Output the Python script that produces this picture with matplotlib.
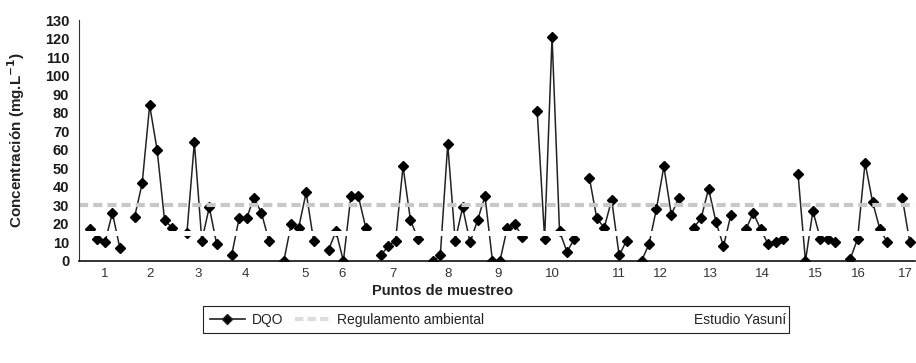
import numpy as np
import matplotlib
matplotlib.use("Agg")
import matplotlib.pyplot as plt
from matplotlib.lines import Line2D
from matplotlib.patches import Rectangle

plt.rcParams['font.family'] = ['Liberation Sans', 'DejaVu Sans']

# DQO values per sampling slot (None = gap between sampling points)
dqo = [17, 12, 10, 26, 7, None,
       24, 42, 84, 60, 22, 18, None,
       15, 64, 11, 29, 9, None,
       3, 23, 23, 34, 26, 11, None,
       0, 20, 18, 37, 11, None,
       6, 16, 0, 35, 35, 18, None,
       3, 8, 11, 51, 22, 12, None,
       0, 3, 63, 11, 29, 10,
       22, 35, 0, 0, 18, 20, 13, None,
       81, 12, 121, 16, 5, 12, None,
       45, 23, 18, 33, 3, 11, None,
       0, 9, 28, 51, 25, 34, None,
       18, 23, 39, 21, 8, 25, None,
       17, 26, 17, 9, 10, 12, None,
       47, 0, 27, 12, 12, 10, None,
       1, 12, 53, 32, 17, 10, None,
       34, 10]

regulamento = 30      # Regulamento ambiental
estudio_yasuni = 15   # Estudio Yasuní

puntos = [str(i) for i in range(1, 18)]
puntos_pos = [2.0, 8.1, 14.5, 20.9, 28.9, 33.8, 40.7, 48.0, 54.8, 62.1,
              71.0, 76.5, 83.2, 90.2, 97.3, 103.1, 109.4]

y_ticks = list(range(0, 131, 10))

fig = plt.figure(figsize=(9.16, 3.63), dpi=100)
W, H = 916, 363
ax = fig.add_axes([79 / W, 1 - 261 / H, (915 - 79) / W, (261 - 20) / H])

vals = np.array([np.nan if v is None else v for v in dqo], dtype=float)
x = np.arange(len(vals))

ax.plot(x, vals, color='#222222', lw=1.1, marker='D', ms=5.2,
        mfc='black', mec='black', zorder=3)
ax.axhline(regulamento, color='#c8c8c8', lw=3.0, dashes=(2.2, 1.2), zorder=4)
ax.axhline(estudio_yasuni, color='white', lw=3.6, zorder=5)

ax.set_xlim(-1.48, 110.7)
ax.set_ylim(0, 130)
ax.set_yticks(y_ticks)
ax.set_yticklabels([str(t) for t in y_ticks], fontsize=10.5, fontweight='bold',
                   color='#1a1a1a')
ax.set_xticks(puntos_pos)
ax.set_xticklabels(puntos, fontsize=9.5, color='#333333')
ax.tick_params(axis='both', length=0)
ax.tick_params(axis='y', pad=7)
ax.tick_params(axis='x', pad=5)

for s in ['top', 'right']:
    ax.spines[s].set_visible(False)
ax.spines['left'].set_color('#333333')
ax.spines['left'].set_linewidth(0.8)
ax.spines['left'].set_zorder(7)
ax.spines['bottom'].set_color('#111111')
ax.spines['bottom'].set_linewidth(1.2)
ax.spines['bottom'].set_zorder(7)

ax.set_ylabel('Concentración (mg.L$^{\\mathbf{-1}}$)', fontsize=11,
              fontweight='bold', color='#222222')
ax.yaxis.set_label_coords((27 - 79) / 836, 0.5)
ax.set_xlabel('Puntos de muestreo', fontsize=10.5, fontweight='bold',
              color='#222222')
ax.xaxis.set_label_coords((443 - 79) / 836, (261 - 284) / 241)

# legend
ly = 1 - 320 / H
h1 = Line2D([], [], color='#222222', lw=1.2, marker='D', ms=5, mfc='black')
h2 = Line2D([], [], color='#dddddd', lw=3, dashes=(2, 1))
h3 = Line2D([], [], color='white', lw=3)
common = dict(frameon=False, loc='center left', borderpad=0, borderaxespad=0,
              handlelength=2.5, handletextpad=0.5, fontsize=10,
              labelcolor='#222222')
fig.legend([h1], ['DQO'], bbox_to_anchor=(210 / W, ly), **common)
fig.legend([h2], ['Regulamento ambiental'], bbox_to_anchor=(295 / W, ly), **common)
fig.legend([h3], ['Estudio Yasuní'], bbox_to_anchor=(652 / W, ly), **common)
fig.patches.append(Rectangle((203 / W, 1 - 333 / H), (789 - 203) / W, 27 / H,
                             transform=fig.transFigure, fill=False,
                             edgecolor='#222222', lw=0.8))

fig.savefig('out.png', dpi=100)
